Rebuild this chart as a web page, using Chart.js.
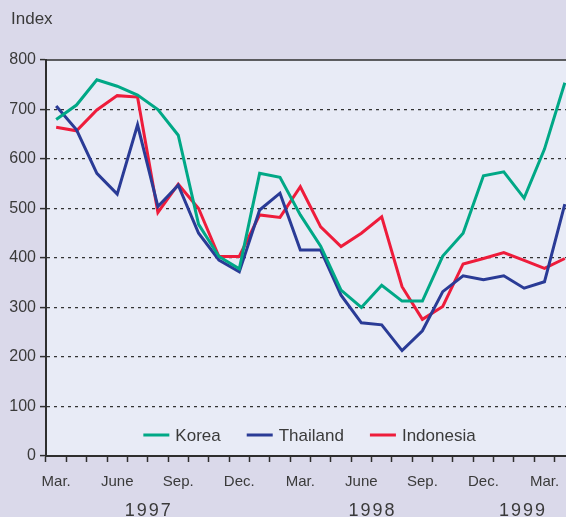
<!DOCTYPE html>
<html>
<head>
<meta charset="utf-8">
<script src="https://cdn.jsdelivr.net/npm/chart.js@4/dist/chart.umd.min.js"></script>
<style>
  html, body { margin: 0; padding: 0; background: #DAD9EA; overflow: hidden; }
  #wrap { width: 566px; height: 517px; overflow: hidden; }
  canvas { display: block; }
</style>
</head>
<body>
<div id="wrap"><canvas id="c" width="580" height="517"></canvas></div>
<script>
// ---- data ----
const months = ['Mar 1997','Apr 1997','May 1997','Jun 1997','Jul 1997','Aug 1997','Sep 1997','Oct 1997','Nov 1997','Dec 1997',
                'Jan 1998','Feb 1998','Mar 1998','Apr 1998','May 1998','Jun 1998','Jul 1998','Aug 1998','Sep 1998','Oct 1998','Nov 1998','Dec 1998',
                'Jan 1999','Feb 1999','Mar 1999','Apr 1999'];
const tickLabels = ['Mar.','','','June','','','Sep.','','','Dec.',
                    '','','Mar.','','','June','','','Sep.','','','Dec.',
                    '','','Mar.',''];
const korea     = [680,709,760,747,729,700,648,468,403,378,571,563,487,424,335,300,345,313,313,404,450,566,574,521,620,754];
const thailand  = [707,659,571,529,669,504,547,450,396,372,497,531,416,416,325,269,265,213,253,332,364,356,364,339,352,509];
const indonesia = [664,657,699,728,725,492,549,500,403,403,487,482,544,463,423,450,483,342,276,302,388,399,411,395,379,399];
const years = ['1997','1998','1999'];
const yearCenters = [4.5, 15.5, 22.9];   // category index at which each year label is centred
const yTicks = [0,100,200,300,400,500,600,700,800];
const yTitle = 'Index';

const textColor = '#3a3a3a';
const axisColor = '#2e2e2e';

const bgPlugin = {
  id: 'bg',
  beforeDraw(chart) {
    const {ctx, chartArea: a} = chart;
    ctx.save();
    ctx.fillStyle = '#E8EBF6';
    ctx.fillRect(a.left, a.top, a.right - a.left, a.bottom - a.top);
    ctx.restore();
  },
  afterDraw(chart) {
    const {ctx, chartArea: a, scales} = chart;
    ctx.save();
    // top frame line
    ctx.strokeStyle = axisColor;
    ctx.lineWidth = 1.5;
    ctx.beginPath();
    ctx.moveTo(a.left, a.top);
    ctx.lineTo(a.right + 10, a.top);
    ctx.stroke();
    // title
    ctx.fillStyle = textColor;
    ctx.font = '17px "Liberation Sans", Arial, sans-serif';
    ctx.textBaseline = 'middle';
    ctx.textAlign = 'left';
    ctx.fillText(yTitle, 11, 19);
    // year labels
    ctx.font = '18px "Liberation Sans", sans-serif';
    ctx.letterSpacing = '2px';
    ctx.textAlign = 'center';
    ctx.textBaseline = 'top';
    years.forEach((y, i) => {
      const x = scales.x.getPixelForValue(yearCenters[i]);
      ctx.fillText(y, x + 1, 502);
    });
    ctx.letterSpacing = '0px';
    // legend inside plot
    ctx.font = '17px "Liberation Sans", Arial, sans-serif';
    ctx.textBaseline = 'middle';
    ctx.textAlign = 'left';
    const lineW = 26, gapLT = 6, gapItems = 26;
    const items = chart.data.datasets.map(d => ({label: d.label, color: d.borderColor, w: lineW + gapLT + ctx.measureText(d.label).width}));
    const total = items.reduce((s, it) => s + it.w, 0) + gapItems * (items.length - 1);
    let x = (a.left + a.right) / 2 - total / 2 - 1;
    const yL = a.bottom - 21;
    items.forEach(it => {
      ctx.strokeStyle = it.color;
      ctx.lineWidth = 3;
      ctx.beginPath();
      ctx.moveTo(x, yL);
      ctx.lineTo(x + lineW, yL);
      ctx.stroke();
      ctx.fillStyle = textColor;
      ctx.fillText(it.label, x + lineW + gapLT, yL + 1);
      x += it.w + gapItems;
    });
    ctx.restore();
  }
};

new Chart(document.getElementById('c'), {
  type: 'line',
  data: {
    labels: months,
    datasets: [
      {label: 'Korea', data: korea, borderColor: '#00A886'},
      {label: 'Thailand', data: thailand, borderColor: '#2A3B96'},
      {label: 'Indonesia', data: indonesia, borderColor: '#EE1C3B'}
    ]
  },
  options: {
    responsive: false,
    animation: false,
    layout: {padding: {top: 60, right: 5, left: 0, bottom: 0}},
    elements: {
      line: {borderWidth: 3, tension: 0, borderCapStyle: 'butt', borderJoinStyle: 'miter'},
      point: {radius: 0}
    },
    plugins: {legend: {display: false}, title: {display: false}, tooltip: {enabled: false}},
    scales: {
      x: {
        type: 'category',
        offset: true,
        afterFit(s) { s.height = 61; },
        grid: {offset: true, drawOnChartArea: false, drawTicks: true, tickLength: 6, tickColor: axisColor, tickWidth: 1.5},
        border: {display: true, color: axisColor, width: 2},
        ticks: {
          autoSkip: false, maxRotation: 0, padding: 11, color: textColor,
          font: {family: '"Liberation Sans", Arial, sans-serif', size: 15},
          callback: (v, i) => tickLabels[i]
        }
      },
      y: {
        min: 0, max: 800,
        afterFit(s) { s.width = 46; },
        afterBuildTicks(s) { s.ticks = yTicks.map(v => ({value: v})); },
        grid: {
          drawTicks: true, tickLength: 6, tickWidth: 1.5, tickColor: axisColor, lineWidth: 1.2,
          color: ctx => (ctx.tick && (ctx.tick.value === 0 || ctx.tick.value === 800)) ? 'rgba(0,0,0,0)' : '#333'
        },
        border: {display: true, color: axisColor, width: 2, dash: [3, 4]},
        ticks: {
          padding: 4, color: textColor,
          font: {family: '"Liberation Sans", Arial, sans-serif', size: 16}
        }
      }
    }
  },
  plugins: [bgPlugin]
});
</script>
</body>
</html>
